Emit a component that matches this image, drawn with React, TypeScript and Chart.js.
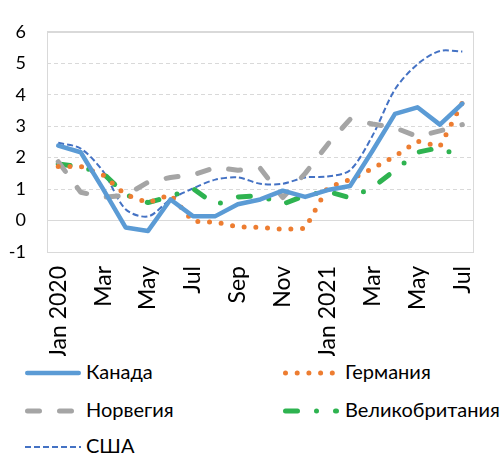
import React, { useEffect, useRef } from "react";
import { Chart, registerables } from "chart.js";

Chart.register(...registerables);

// ---- data ----
const months = [
  "Jan 2020", "Feb", "Mar", "Apr", "May", "Jun", "Jul", "Aug", "Sep", "Oct", "Nov", "Dec",
  "Jan 2021", "Feb", "Mar", "Apr", "May", "Jun", "Jul",
];
const yTicks = [-1, 0, 1, 2, 3, 4, 5, 6];

const canada = [2.38, 2.17, 1.0, -0.22, -0.33, 0.67, 0.14, 0.14, 0.52, 0.67, 0.95, 0.75, 0.97, 1.1, 2.22, 3.39, 3.6, 3.05, 3.72];
const germany = [1.72, 1.72, 1.45, 0.82, 0.57, 0.82, -0.03, -0.05, -0.2, -0.22, -0.28, -0.25, 1.05, 1.3, 1.65, 2.05, 2.52, 2.35, 3.75];
const norway = [1.87, 0.9, 0.74, 0.8, 1.22, 1.37, 1.45, 1.69, 1.6, 1.66, 0.73, 1.5, 2.42, 3.22, 3.07, 2.95, 2.67, 2.85, 3.05];
const uk = [1.8, 1.7, 1.5, 0.82, 0.57, 0.77, 1.02, 0.5, 0.75, 0.79, 0.52, 0.8, 0.93, 0.72, 1.05, 1.6, 2.17, 2.32, 2.0];
const usa = [2.47, 2.29, 1.56, 0.36, 0.13, 0.67, 1.02, 1.3, 1.37, 1.17, 1.17, 1.37, 1.4, 1.6, 2.7, 4.17, 4.97, 5.39, 5.37];

const names = ["Канада", "Германия", "Норвегия", "Великобритания", "США"];

// ---- styles ----
const FONT = "Lato, 'Open Sans', sans-serif";
const X_FONT = 23;
const Y_FONT = 18;
const LEGEND_FONT = 20;

const series = [
  { name: names[0], data: canada, color: "#5B9BD5", width: 4.5, dash: [] as number[], cap: "round" as CanvasLineCap, tension: 0 },
  { name: names[1], data: germany, color: "#ED7D31", width: 5, dash: [0, 11.7], cap: "round" as CanvasLineCap, tension: 0 },
  { name: names[2], data: norway, color: "#A5A5A5", width: 5, dash: [12, 20], cap: "round" as CanvasLineCap, tension: 0 },
  { name: names[3], data: uk, color: "#2EB350", width: 5, dash: [12, 19, 0, 19], cap: "round" as CanvasLineCap, tension: 0 },
  { name: names[4], data: usa, color: "#4472C4", width: 2, dash: [6, 3], cap: "butt" as CanvasLineCap, tension: 0.3 },
];

const legendPos = [
  { x: 25, tx: 86, y: 373 },
  { x: 283, tx: 345, y: 373 },
  { x: 25, tx: 86, y: 411 },
  { x: 283, tx: 345, y: 411 },
  { x: 25, tx: 86, y: 447 },
];

const framePlugin = {
  id: "frame",
  beforeDatasetsDraw(chart: any) {
    const { ctx, chartArea: a } = chart;
    ctx.save();
    ctx.strokeStyle = "#d9d9d9";
    ctx.lineWidth = 1;
    ctx.setLineDash([]);
    ctx.strokeRect(Math.round(a.left) + 0.5, Math.round(a.top) + 0.5, Math.round(a.right - a.left) - 1, Math.round(a.bottom - a.top));
    ctx.restore();
  },
};

export default function App() {
  const ref = useRef<HTMLCanvasElement | null>(null);

  useEffect(() => {
    document.body.style.margin = "0";
    const canvas = ref.current;
    if (!canvas) return;
    const chart = new Chart(canvas, {
      type: "line",
      data: {
        labels: months,
        datasets: series.map((s) => ({
          label: s.name,
          data: s.data,
          borderColor: s.color,
          backgroundColor: s.color,
          borderWidth: s.width,
          borderDash: s.dash,
          borderCapStyle: s.cap,
          borderJoinStyle: "round",
          pointRadius: 0,
          tension: s.tension,
          fill: false,
        })),
      },
      options: {
        animation: false,
        responsive: false,
        devicePixelRatio: 1,
        layout: { padding: { top: 18, right: 2, left: 0, bottom: 0 } },
        plugins: { legend: { display: false }, tooltip: { enabled: false } },
        scales: {
          x: {
            offset: true,
            grid: { display: false, drawTicks: false },
            border: { display: false },
            afterFit: (scale: any) => {
              scale.height = 104;
            },
            ticks: {
              autoSkip: false,
              maxRotation: 90,
              minRotation: 90,
              padding: 14,
              color: "#000",
              font: { family: FONT, size: X_FONT },
              callback: (_v: any, i: number) => (i % 2 === 0 ? months[i] : ""),
            },
          },
          y: {
            min: yTicks[0],
            max: yTicks[yTicks.length - 1],
            afterFit: (scale: any) => {
              scale.width = 47;
            },
            afterBuildTicks: (scale: any) => {
              scale.ticks = yTicks.map((v) => ({ value: v }));
            },
            grid: { color: "#d9d9d9", lineWidth: 1, drawTicks: false },
            border: {
              display: false,
              dash: (ctx: any) => {
                const v = ctx.tick ? ctx.tick.value : 1;
                return v === 0 || v === yTicks[0] || v === yTicks[yTicks.length - 1] ? [] : [4, 3];
              },
            },
            ticks: {
              padding: 21,
              color: "#000",
              font: { family: FONT, size: Y_FONT },
            },
          },
        },
      },
      plugins: [framePlugin],
    } as any);
    return () => chart.destroy();
  }, []);

  return (
    <div style={{ position: "relative", width: 504, height: 454, background: "#fff", fontFamily: FONT, overflow: "hidden" }}>
      <canvas ref={ref} width={504} height={356} style={{ position: "absolute", left: 0, top: 0, width: 504, height: 356 }} />
      {series.map((s, i) => {
        const p = legendPos[i];
        const x1 = s.cap === "round" ? s.width / 2 : 0;
        const x2 = 56 - x1;
        return (
          <div key={s.name}>
            <svg width={58} height={12} style={{ position: "absolute", left: p.x, top: p.y - 6 }}>
              <line
                x1={x1}
                x2={x2}
                y1={6}
                y2={6}
                stroke={s.color}
                strokeWidth={s.width}
                strokeLinecap={s.cap}
                strokeDasharray={s.dash.length ? s.dash.join(" ") : undefined}
              />
            </svg>
            <span style={{ position: "absolute", left: p.tx, top: p.y - 15, fontSize: LEGEND_FONT, lineHeight: "26px", color: "#000", whiteSpace: "nowrap" }}>
              {s.name}
            </span>
          </div>
        );
      })}
    </div>
  );
}
